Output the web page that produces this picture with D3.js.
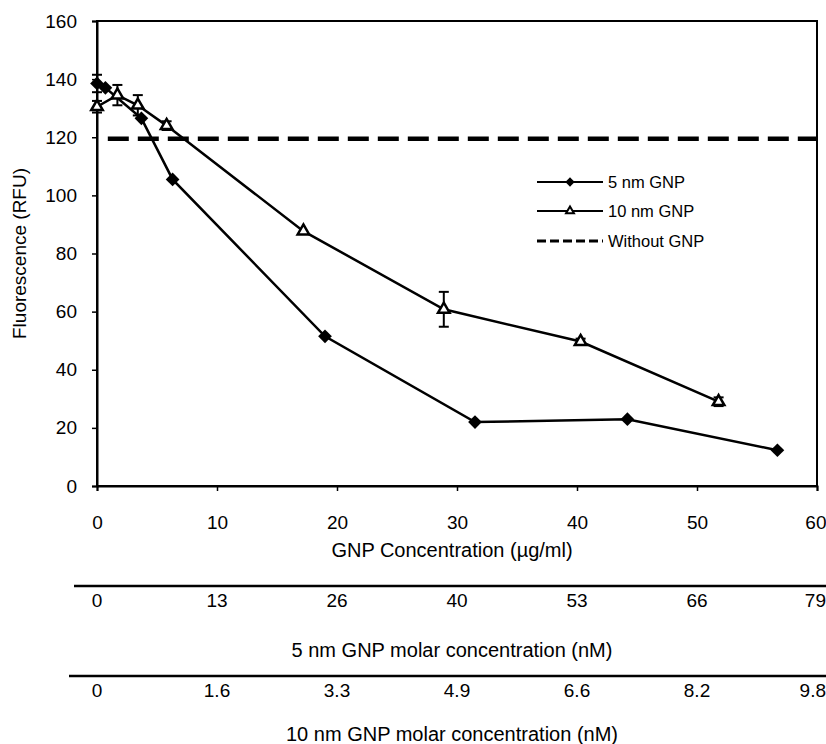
<!DOCTYPE html>
<html>
<head>
<meta charset="utf-8">
<script src="https://cdn.jsdelivr.net/npm/d3@7"></script>
<style>
  body { margin: 0; background: #fff; }
  svg text { font-family: Arial, "Liberation Sans", sans-serif; fill: #000; }
</style>
</head>
<body>
<svg id="chart" width="826" height="744"></svg>
<script>
"use strict";

// 5 nm GNP (diamonds)
const conc5 = [0, 0.7, 3.7, 6.3, 19.0, 31.5, 44.2, 56.7];
const fluo5 = [138.5, 137, 126.5, 105.5, 51.5, 22, 23, 12.3];
const err5 = [3, 0, 0, 0, 0, 0, 0, 0];

// 10 nm GNP (triangles)
const conc10 = [0, 1.7, 3.4, 5.8, 17.2, 28.9, 40.3, 51.8];
const fluo10 = [130.5, 134.5, 131, 124, 87.7, 60.8, 49.7, 29];
const err10 = [2, 3.5, 3.5, 1.5, 0, 6, 1, 1.5];

const withoutGNP = 119.5;

const yTicks = [0, 20, 40, 60, 80, 100, 120, 140, 160];
const xTicks = [0, 10, 20, 30, 40, 50, 60];
const molar5Labels = ["0", "13", "26", "40", "53", "66", "79"];
const molar10Labels = ["0", "1.6", "3.3", "4.9", "6.6", "8.2", "9.8"];

const legendLabels = ["5 nm GNP", "10 nm GNP", "Without GNP"];

const svg = d3.select("#chart");
const x = d3.scaleLinear().domain([0, 60]).range([97, 817]);
const y = d3.scaleLinear().domain([0, 160]).range([486, 21]);

// last label sits on the right edge, keep it inside the picture
const isLast = i => i == xTicks.length - 1;

// plot frame
svg.append("rect")
    .attr("x", x(0)).attr("y", y(160))
    .attr("width", x(60) - x(0)).attr("height", y(0) - y(160))
    .attr("fill", "none").attr("stroke", "#000").attr("stroke-width", 2);

// y axis
const yAxis = svg.append("g")
    .attr("transform", `translate(${x(0)},0)`)
    .call(d3.axisLeft(y).tickValues(yTicks).tickSize(5).tickPadding(15));
yAxis.select(".domain").attr("stroke-width", 2);
yAxis.selectAll("line").attr("stroke-width", 1.5);
yAxis.selectAll("text").style("font-size", "19px");

// x axis
const xAxis = svg.append("g")
    .attr("transform", `translate(0,${y(0)})`)
    .call(d3.axisBottom(x).tickValues(xTicks).tickSize(5).tickPadding(25));
xAxis.select(".domain").attr("stroke-width", 2);
xAxis.selectAll("line").attr("stroke-width", 1.5);
xAxis.selectAll("text").style("font-size", "19px")
    .filter((d, i) => isLast(i))
    .attr("text-anchor", "end").attr("x", 826 - x(60));

// axis titles
svg.append("text")
    .attr("transform", `translate(19,${(y(0) + y(160)) / 2}) rotate(-90)`)
    .attr("text-anchor", "middle").attr("dy", "0.35em")
    .style("font-size", "19px")
    .text("Fluorescence (RFU)");

svg.append("text")
    .attr("x", 452).attr("y", 550).attr("dy", "0.35em")
    .attr("text-anchor", "middle").style("font-size", "20px")
    .text("GNP Concentration (\u00b5g/ml)");

// secondary scales (molar concentration)
function molarAxis(lineY, lineX1, labels, title, titleY) {
    const g = svg.append("g");
    g.append("line")
        .attr("x1", lineX1).attr("x2", 826)
        .attr("y1", lineY).attr("y2", lineY)
        .attr("stroke", "#000").attr("stroke-width", 2.5);
    g.selectAll("text.lab").data(labels).enter()
        .append("text").attr("class", "lab")
        .attr("x", (d, i) => isLast(i) ? 826 : x(xTicks[i]))
        .attr("y", lineY + 14).attr("dy", "0.35em")
        .attr("text-anchor", (d, i) => isLast(i) ? "end" : "middle")
        .style("font-size", "19px")
        .text(d => d);
    g.append("text")
        .attr("x", 452).attr("y", titleY).attr("dy", "0.35em")
        .attr("text-anchor", "middle").style("font-size", "20px")
        .text(title);
}
molarAxis(586, 74, molar5Labels, "5 nm GNP molar concentration (nM)", 650);
molarAxis(676, 69, molar10Labels, "10 nm GNP molar concentration (nM)", 734);

// reference line without GNP
svg.append("line")
    .attr("x1", x(0.9)).attr("x2", x(60))
    .attr("y1", y(withoutGNP)).attr("y2", y(withoutGNP))
    .attr("stroke", "#000").attr("stroke-width", 4.5)
    .attr("stroke-dasharray", "21,9");

const line = d3.line().x(d => x(d[0])).y(d => y(d[1]));
const pts5 = conc5.map((c, i) => [c, fluo5[i], err5[i]]);
const pts10 = conc10.map((c, i) => [c, fluo10[i], err10[i]]);

function errorBars(pts) {
    const g = svg.append("g").attr("stroke", "#000").attr("stroke-width", 2);
    pts.filter(d => d[2] > 0).forEach(d => {
        const cx = x(d[0]);
        g.append("line").attr("x1", cx).attr("x2", cx)
            .attr("y1", y(d[1] - d[2])).attr("y2", y(d[1] + d[2]));
        [d[1] - d[2], d[1] + d[2]].forEach(v => {
            g.append("line").attr("x1", cx - 5).attr("x2", cx + 5)
                .attr("y1", y(v)).attr("y2", y(v));
        });
    });
}

errorBars(pts10);
errorBars(pts5);

svg.append("path").datum(pts10).attr("d", line)
    .attr("fill", "none").attr("stroke", "#000").attr("stroke-width", 2.5);
svg.append("path").datum(pts5).attr("d", line)
    .attr("fill", "none").attr("stroke", "#000").attr("stroke-width", 2.5);

const diamond = d3.symbol().type(d3.symbolDiamond2).size(120);
const triangle = d3.symbol().type(d3.symbolTriangle2).size(95);

svg.selectAll("path.tri").data(pts10).enter()
    .append("path").attr("class", "tri")
    .attr("d", triangle)
    .attr("transform", d => `translate(${x(d[0])},${y(d[1])})`)
    .attr("fill", "#fff").attr("stroke", "#000").attr("stroke-width", 2.5);

svg.selectAll("path.dia").data(pts5).enter()
    .append("path").attr("class", "dia")
    .attr("d", diamond)
    .attr("transform", d => `translate(${x(d[0])},${y(d[1])})`)
    .attr("fill", "#000");

// legend
const legY = [182, 211, 241];
const leg = svg.append("g");
legendLabels.forEach((lab, i) => {
    const ly = legY[i];
    leg.append("line")
        .attr("x1", 537).attr("x2", 603).attr("y1", ly).attr("y2", ly)
        .attr("stroke", "#000")
        .attr("stroke-width", i == 2 ? 3 : 2)
        .attr("stroke-dasharray", i == 2 ? "9,4" : null);
    if (i == 0) {
        leg.append("path").attr("d", d3.symbol().type(d3.symbolDiamond2).size(55))
            .attr("transform", `translate(570,${ly})`).attr("fill", "#000");
    } else if (i == 1) {
        leg.append("path").attr("d", d3.symbol().type(d3.symbolTriangle2).size(45))
            .attr("transform", `translate(570,${ly})`)
            .attr("fill", "#fff").attr("stroke", "#000").attr("stroke-width", 2);
    }
    leg.append("text")
        .attr("x", 608).attr("y", ly).attr("dy", "0.35em")
        .style("font-size", "16.5px")
        .text(lab);
});
</script>
</body>
</html>
